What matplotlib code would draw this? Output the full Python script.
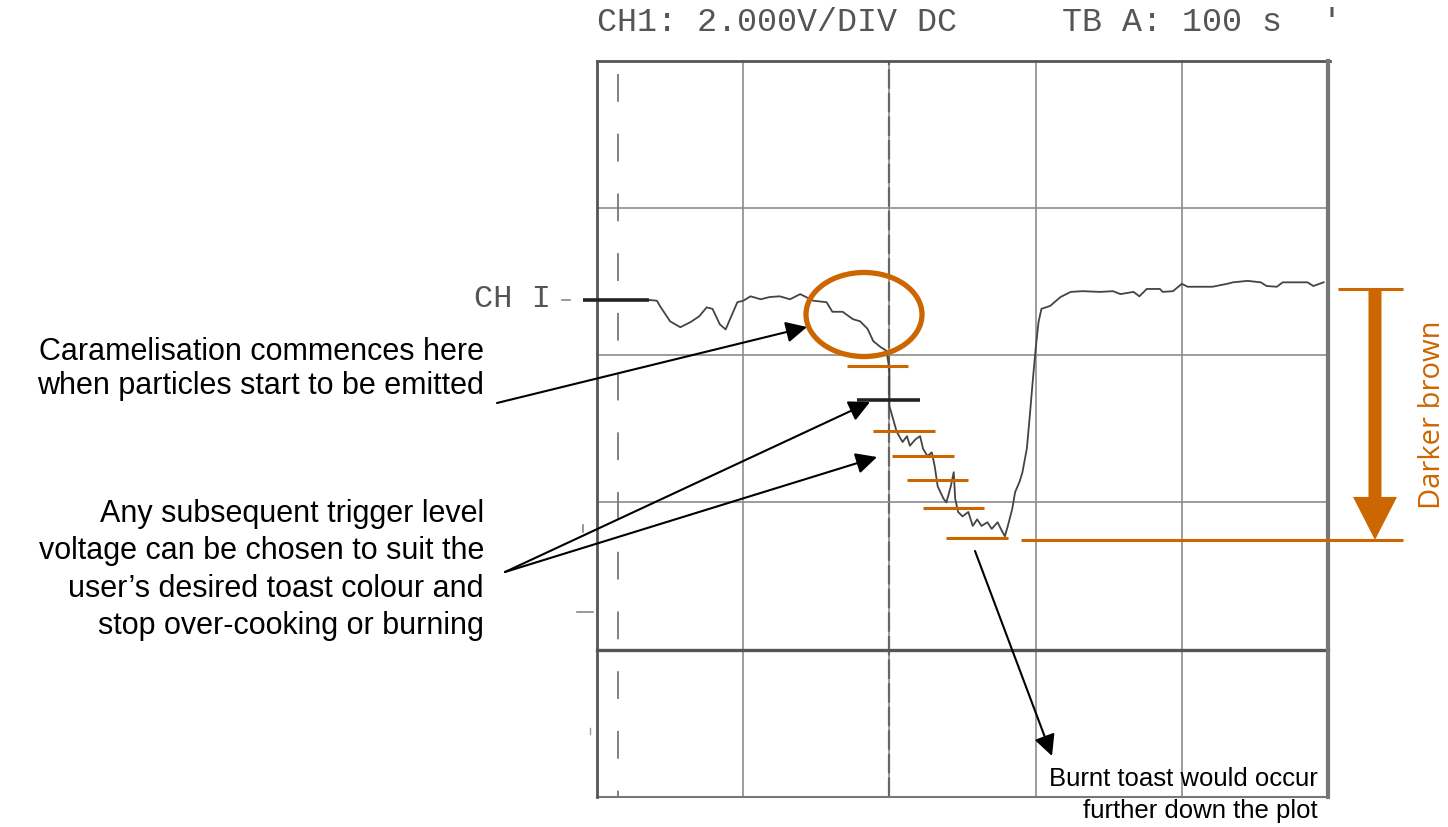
import numpy as np
import matplotlib.pyplot as plt
from matplotlib.patches import Ellipse

plt.rcParams['lines.scale_dashes'] = False

# scope settings: 100 s/div, 2 V/div, 0 V at the "CH I" marker
grid_t = [0, 100, 200, 300, 400, 500]
grid_v = [3.25, 1.25, -0.75, -2.75, -4.75, -6.75]

# trace read from the scope print (time in s, voltage in V)
time_s = [36, 41, 43, 50, 57, 64, 70, 75, 79, 84, 88, 91, 96, 100, 105, 112, 118, 125, 132, 139,
          148, 157, 161, 168, 175, 180, 185, 189, 194, 198, 200, 200, 200, 202, 205, 209, 212,
          214, 218, 221, 223, 226, 229, 231, 233, 237, 239, 242, 244, 245, 247, 250, 254, 257,
          260, 263, 267, 270, 274, 277, 279, 281, 284, 286, 289, 291, 294, 296, 298, 300, 302,
          304, 310, 317, 324, 332, 344, 353, 358, 367, 371, 376, 385, 387, 394, 400, 404, 413,
          421, 431, 435, 445, 454, 458, 465, 469, 486, 490, 497]
volts = [0.0, -0.01, -0.08, -0.29, -0.37, -0.30, -0.22, -0.10, -0.12, -0.33, -0.40, -0.26, -0.03,
         -0.01, 0.05, 0.01, 0.04, 0.05, 0.01, 0.08, -0.01, -0.03, -0.16, -0.16, -0.26, -0.29,
         -0.39, -0.56, -0.64, -0.69, -0.94, -1.21, -1.44, -1.58, -1.79, -1.93, -1.85, -1.98,
         -1.89, -1.85, -2.02, -2.12, -2.07, -2.26, -2.53, -2.70, -2.75, -2.53, -2.34, -2.70,
         -2.88, -2.94, -2.88, -3.07, -2.98, -3.07, -3.02, -3.11, -3.02, -3.14, -3.21, -3.07,
         -2.84, -2.61, -2.47, -2.34, -2.02, -1.58, -1.11, -0.67, -0.30, -0.12, -0.08, 0.04,
         0.11, 0.12, 0.11, 0.12, 0.08, 0.11, 0.05, 0.15, 0.15, 0.11, 0.12, 0.22, 0.18, 0.18,
         0.18, 0.22, 0.24, 0.26, 0.24, 0.19, 0.18, 0.24, 0.24, 0.19, 0.24]

# trigger levels (V) and where their short bars start (s)
levels_v = [-0.90, -1.78, -2.12, -2.45, -2.83, -3.23]
levels_t = [171, 189, 202, 212, 223, 239]
first_level_v = -1.36
first_level_t = 178
burnt_level_v = -3.26
top_level_v = 0.15

ORANGE = '#CC6600'
GRID = '#8c8c8c'

# pixel helpers for placing annotations
T_PER_PX = 100 / 146.2
V_PER_PX = 2 / 147.2


def tx(px):
    return (px - 597) * T_PER_PX


def vy(py):
    return (301 - py) * V_PER_PX


fig = plt.figure(figsize=(14.48, 8.28), dpi=100)
ax = fig.add_axes([0, 0, 1, 1])
ax.set_xlim(tx(0), tx(1448))
ax.set_ylim(vy(828), vy(0))
ax.axis('off')

# scope graticule
for t in grid_t[1:-1]:
    ax.plot([t, t], [grid_v[-1], grid_v[0]], color=GRID, lw=1.2, zorder=1)
ax.plot([200, 200], [grid_v[-1], grid_v[0]], color='#666666', lw=1.6,
        dashes=(14, 3), zorder=1)
for v in grid_v[1:-2]:
    ax.plot([grid_t[0], grid_t[-1]], [v, v], color=GRID, lw=1.2, zorder=1)
ax.plot([grid_t[0], grid_t[-1]], [grid_v[-2], grid_v[-2]], color='#555555', lw=2.4, zorder=1)
ax.plot([grid_t[0], grid_t[-1]], [grid_v[-1], grid_v[-1]], color='#777777', lw=1.5, zorder=1)
ax.plot([grid_t[0], grid_t[-1] + 1.5], [grid_v[0], grid_v[0]], color='#555555', lw=2.0, zorder=1)
ax.plot([0, 0], [grid_v[-1], grid_v[0]], color='#555555', lw=2.0, zorder=1)
ax.plot([500, 500], [grid_v[-1], grid_v[0]], color='#777777', lw=3.0, zorder=1)
# trigger position marker
ax.plot([tx(618), tx(618)], [vy(75), grid_v[-1]], color='#777777', lw=1.3,
        dashes=(20, 23), zorder=1)
# small side marks
ax.plot([tx(577), tx(593)], [vy(613), vy(613)], color='#888888', lw=1.2)
ax.plot([tx(583), tx(583)], [vy(526), vy(533)], color='#888888', lw=1.2)
ax.plot([tx(590), tx(590)], [vy(729), vy(735)], color='#999999', lw=1.0)

# header and channel marker
mono = 'Liberation Mono'
ax.text(tx(597), vy(23), 'CH1: 2.000V/DIV DC', family=mono, fontsize=24,
        color='#555555', ha='left', va='center')
ax.text(tx(1062), vy(23), "TB A: 100 s  '", family=mono, fontsize=24,
        color='#555555', ha='left', va='center')
ax.text(tx(474), vy(299), 'CH I', family=mono, fontsize=23, color='#555555',
        ha='left', va='center')
ax.plot([tx(562), tx(570)], [0, 0], color='#888888', lw=1.2)
ax.plot([tx(583), tx(649)], [0, 0], color='#222222', lw=2.6, solid_capstyle='butt')

# trace
ax.plot(time_s, volts, color='#444444', lw=1.3, zorder=3)

# trigger level bars
ax.plot([first_level_t, first_level_t + 43], [first_level_v] * 2, color='#222222',
        lw=2.6, solid_capstyle='butt', zorder=4)
for lv, lt in zip(levels_v, levels_t):
    ax.plot([lt, lt + 42], [lv, lv], color=ORANGE, lw=2.2, solid_capstyle='butt', zorder=4)
ax.plot([tx(1021), tx(1403)], [burnt_level_v] * 2, color=ORANGE, lw=2.2,
        solid_capstyle='butt', zorder=4)
ax.plot([tx(1338), tx(1403)], [top_level_v] * 2, color=ORANGE, lw=2.2,
        solid_capstyle='butt', zorder=4)

# big "darker brown" arrow
ax.arrow(tx(1375), top_level_v, 0, burnt_level_v - top_level_v, width=13 * T_PER_PX,
         head_width=44 * T_PER_PX, head_length=43 * V_PER_PX, length_includes_head=True,
         color=ORANGE, lw=0, zorder=4)
ax.text(tx(1433), vy(415), 'Darker brown', rotation=90, family='Open Sans',
        fontsize=21, color=ORANGE, ha='center', va='center')

# caramelisation ring
ax.add_patch(Ellipse((tx(864), vy(315.5)), 116 * T_PER_PX, 84 * V_PER_PX,
                     fill=False, edgecolor=ORANGE, lw=3.8, zorder=5))

# callouts
sans = 'Liberation Sans'
arrow_kw = dict(arrowstyle='-|>', color='black', lw=1.5, mutation_scale=32,
                shrinkA=0, shrinkB=0)
ax.text(tx(484), vy(369), 'Caramelisation commences here\nwhen particles start to be emitted',
        family=sans, fontsize=22, ha='right', va='center', linespacing=1.17)
ax.annotate('', xy=(tx(807), vy(328)), xytext=(tx(497), vy(404)), arrowprops=arrow_kw)

ax.text(tx(484), vy(570), 'Any subsequent trigger level\nvoltage can be chosen to suit the\n'
        'user\u2019s desired toast colour and\nstop over-cooking or burning',
        family=sans, fontsize=22, ha='right', va='center', linespacing=1.32)
ax.annotate('', xy=(tx(870), vy(403)), xytext=(tx(505), vy(573)), arrowprops=arrow_kw)
ax.annotate('', xy=(tx(877), vy(458)), xytext=(tx(505), vy(573)), arrowprops=arrow_kw)

ax.text(tx(1318), vy(795), 'Burnt toast would occur\nfurther down the plot',
        family=sans, fontsize=18.5, ha='right', va='center', linespacing=1.4)
ax.annotate('', xy=(tx(1052), vy(757)), xytext=(tx(975), vy(552)), arrowprops=arrow_kw)

plt.savefig('out.png', dpi=100)
